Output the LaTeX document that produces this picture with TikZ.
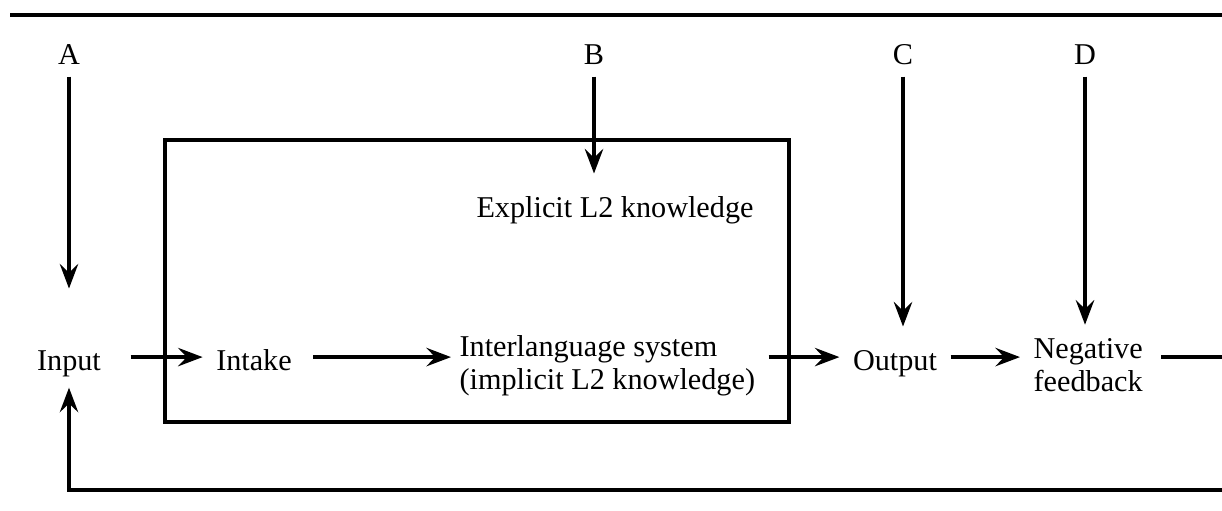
\documentclass[tikz,border=0pt]{standalone}
\usepackage{fontspec}
\setmainfont{Liberation Serif}
\usetikzlibrary{arrows.meta,positioning}

\tikzset{
  lbl/.style={inner sep=0.24cm, font=\fontsize{17.2}{18.8}\selectfont},
  row/.style={lbl, text height=17pt, text depth=2.3pt},
  arr/.style={-{Stealth[length=14pt,width=10.5pt,inset=5pt]}}
}

\begin{document}
\begin{tikzpicture}[x=0.02cm, y=-0.02cm, line width=1.85pt]
  \useasboundingbox (0,0) rectangle (1222,510);

  % rule on top
  \draw (10,15) -- (1222,15);

  % top labels
  \node[row, inner sep=0.12cm, anchor=base] (A) at (69,65) {A};
  \node[row, inner sep=0.12cm, anchor=base] (B) at (594,65) {B};
  \node[row, inner sep=0.12cm, anchor=base] (C) at (903,65) {C};
  \node[row, inner sep=0.12cm, anchor=base] (D) at (1085,65) {D};

  % the box
  \draw (165,140) rectangle (789,422);

  % main row
  \node[row, anchor=base] (input) at (69,370) {Input};
  \node[row, anchor=base] (intake) at (254,370) {Intake};
  \node[lbl, anchor=west, align=left] (ils) at (446,366) {Interlanguage system\\(implicit L2 knowledge)};
  \node[row, anchor=base] (output) at (895,370) {Output};
  \node[lbl, anchor=west, align=left] (negfb) at (1020,365) {Negative\\feedback};
  \node[row, anchor=base] (explicit) at (615,217) {Explicit L2 knowledge};

  % arrows in the row
  \draw[arr, shorten <=0.32cm] (input) -- (intake);
  \draw[arr, shorten <=0.16cm, shorten >=-0.1cm] (intake) -- (intake -| ils.west);
  \draw[arr] (ils.east |- output) -- (output);
  \draw[arr] (output) -- (output -| negfb.west);

  % arrows from above
  \draw[arr, shorten >=0.76cm] (A) -- (A |- input.north);
  \draw[arr] (B) -- (B |- explicit.north);
  \draw[arr] (C) -- (C |- output.north);
  \draw[arr] (D) -- (D |- negfb.north);

  % feedback loop
  \coordinate (rcorner) at (1226,490);
  \draw[arr, shorten <=0.1cm] (negfb.east |- output) -| (rcorner) -| (input);
\end{tikzpicture}
\end{document}
